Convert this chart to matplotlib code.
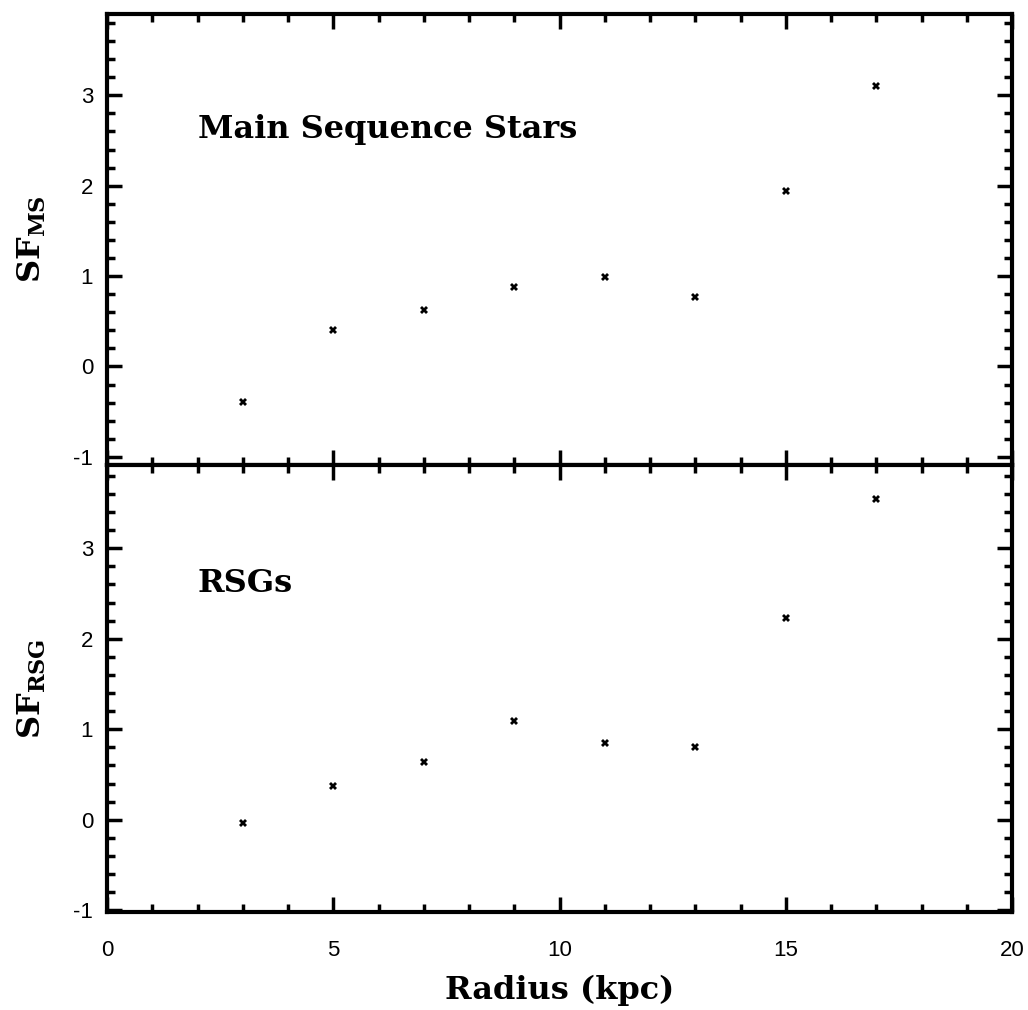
import matplotlib.pyplot as plt
from matplotlib.ticker import MultipleLocator

plt.rcParams['font.family'] = ['Liberation Sans', 'DejaVu Sans']
plt.rcParams['axes.unicode_minus'] = False
plt.rcParams['mathtext.fontset'] = 'dejavuserif'

# radius bins (kpc) and star formation values for each panel
radius = [3, 5, 7, 9, 11, 13, 15, 17]
sf_ms = [-0.39, 0.40, 0.62, 0.88, 0.99, 0.77, 1.94, 3.10]
sf_rsg = [-0.04, 0.375, 0.64, 1.09, 0.85, 0.80, 2.23, 3.54]

label_font = {'family': 'DejaVu Serif', 'size': 23, 'weight': 'bold'}

fig = plt.figure(figsize=(10.28, 10.10), dpi=100)
ax1 = fig.add_axes([107 / 1028, 1 - 465 / 1010, 905 / 1028, 451 / 1010])
ax2 = fig.add_axes([107 / 1028, 1 - 912 / 1010, 905 / 1028, 447 / 1010], sharex=ax1)

for ax in (ax1, ax2):
    ax.set_xlim(0, 20)
    ax.xaxis.set_major_locator(MultipleLocator(5))
    ax.xaxis.set_minor_locator(MultipleLocator(1))
    ax.yaxis.set_major_locator(MultipleLocator(1))
    ax.yaxis.set_minor_locator(MultipleLocator(0.2))
    ax.tick_params(which='both', direction='in', top=True, right=True, width=2.5)
    ax.tick_params(which='major', length=11, labelsize=16)
    ax.tick_params(which='minor', length=5.5)
    ax.tick_params(axis='y', pad=10)
    ax.tick_params(axis='x', pad=20)
    for s in ax.spines.values():
        s.set_linewidth(3)

ax1.set_ylim(-1.09, 3.9)
ax2.set_ylim(-1.02, 3.92)

ax1.plot(radius, sf_ms, 'X', color='black', markersize=6, markeredgewidth=0)
ax2.plot(radius, sf_rsg, 'X', color='black', markersize=6, markeredgewidth=0)

ax1.tick_params(labelbottom=False)

ax1.text(2.0, 2.62, 'Main Sequence Stars', fontdict=label_font, va='center')
ax2.text(2.0, 2.61, 'RSGs', fontdict=label_font, va='center')

ax1.set_ylabel(r'SF$_{\mathbf{MS}}$', fontdict=label_font, labelpad=18)
ax2.set_ylabel(r'SF$_{\mathbf{RSG}}$', fontdict=label_font, labelpad=18)
ax2.set_xlabel('Radius (kpc)', fontdict=label_font, labelpad=10)

plt.savefig('out.png')
